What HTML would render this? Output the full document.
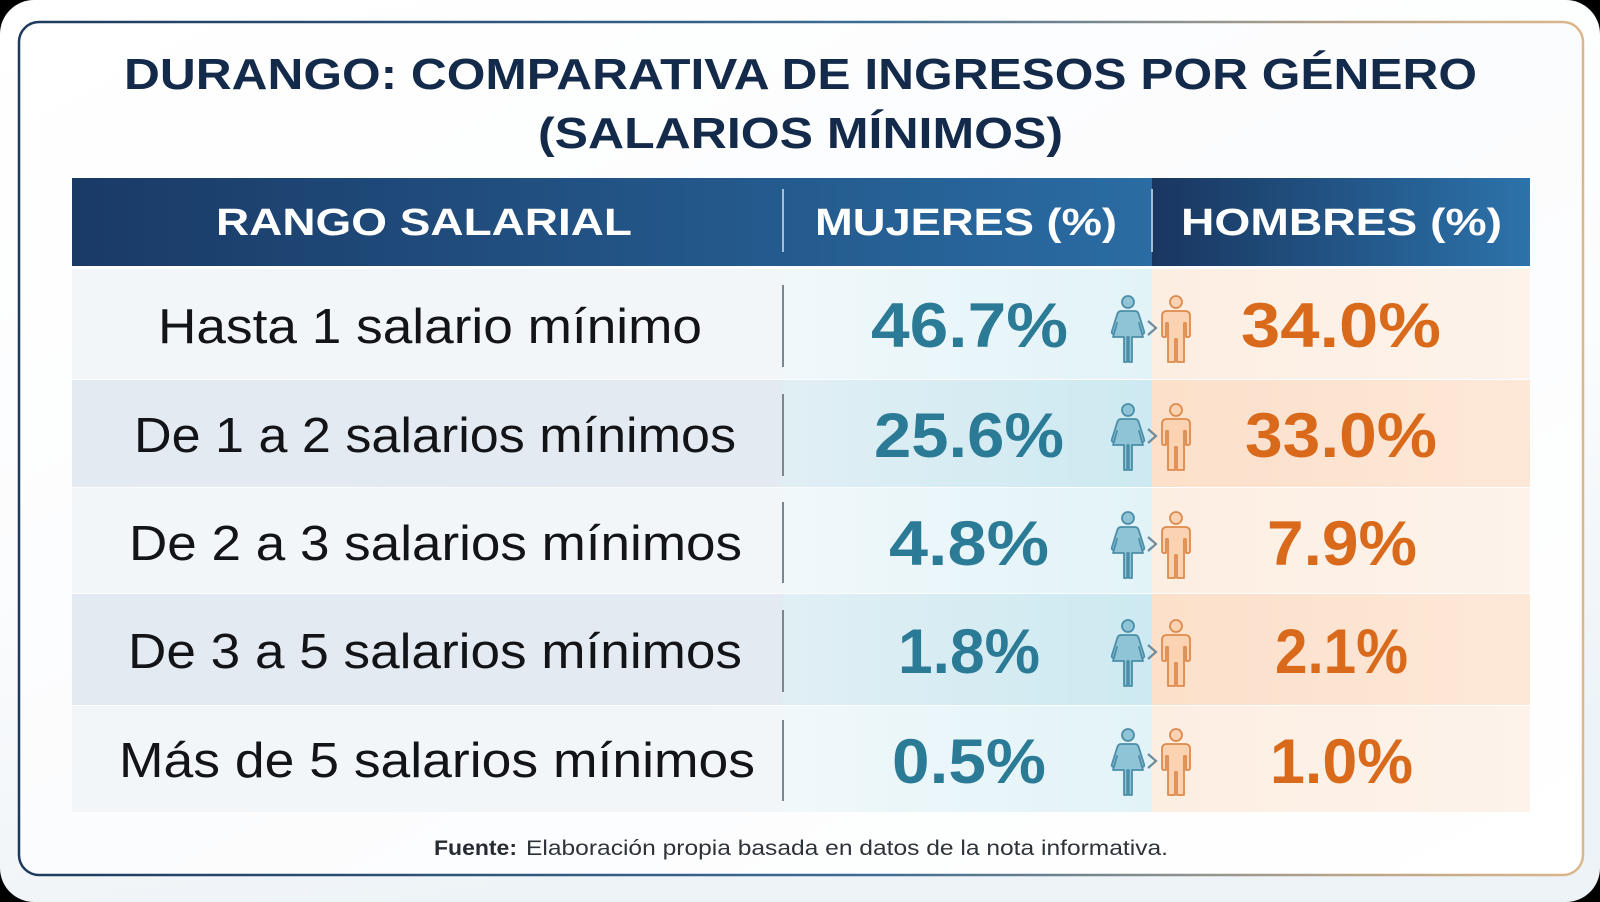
<!DOCTYPE html>
<html>
<head>
<meta charset="utf-8">
<style>
  html,body{margin:0;padding:0;background:#000;}
  svg{display:block;}
  text{font-family:"Liberation Sans", Arial, sans-serif;}
</style>
</head>
<body>
<svg width="1600" height="902" viewBox="0 0 1600 902" xmlns="http://www.w3.org/2000/svg">
  <defs>
    <linearGradient id="pagebg" x1="0" y1="0" x2="0.3" y2="1">
      <stop offset="0" stop-color="#ffffff"/>
      <stop offset="0.6" stop-color="#fbfcfd"/>
      <stop offset="1" stop-color="#eef3f7"/>
    </linearGradient>
    <linearGradient id="cardbg" x1="0" y1="0" x2="1" y2="1">
      <stop offset="0" stop-color="#ffffff"/>
      <stop offset="0.5" stop-color="#fbfcfd"/>
      <stop offset="1" stop-color="#ffffff"/>
    </linearGradient>
    <linearGradient id="cardstroke" x1="0" y1="0" x2="1" y2="0">
      <stop offset="0" stop-color="#1d3a5e"/>
      <stop offset="0.55" stop-color="#3d6d93"/>
      <stop offset="0.85" stop-color="#b9a48a"/>
      <stop offset="1" stop-color="#dcb78c"/>
    </linearGradient>
    <linearGradient id="hdr1" x1="0" y1="0" x2="1" y2="0">
      <stop offset="0" stop-color="#1a3a66"/>
      <stop offset="1" stop-color="#2a6ca3"/>
    </linearGradient>
    <linearGradient id="hdr2" x1="0" y1="0" x2="1" y2="0">
      <stop offset="0" stop-color="#193660"/>
      <stop offset="1" stop-color="#2c73ab"/>
    </linearGradient>
    <linearGradient id="mujOdd" x1="0" y1="0" x2="1" y2="0">
      <stop offset="0" stop-color="#f0f8fa"/>
      <stop offset="1" stop-color="#e2f3f8"/>
    </linearGradient>
    <linearGradient id="mujEven" x1="0" y1="0" x2="1" y2="0">
      <stop offset="0" stop-color="#e0eff4"/>
      <stop offset="1" stop-color="#cde9f1"/>
    </linearGradient>
    <linearGradient id="homOdd" x1="0" y1="0" x2="1" y2="0">
      <stop offset="0" stop-color="#fdeee2"/>
      <stop offset="1" stop-color="#fdf3eb"/>
    </linearGradient>
    <linearGradient id="homEven" x1="0" y1="0" x2="1" y2="0">
      <stop offset="0" stop-color="#fce0ca"/>
      <stop offset="1" stop-color="#fde8d8"/>
    </linearGradient>

    <g id="female">
      <circle cx="0" cy="-27" r="6" fill="#8fc4d7" stroke="#4c8ea8" stroke-width="1.8"/>
      <path d="M-7,-18 L7,-18 Q10,-18 11,-14 L16,2 Q17,5 14,5 L11,-6 L15,8 L4,8 L4,33 L0.8,33 L0.8,8 L-0.8,8 L-0.8,33 L-4,33 L-4,8 L-15,8 L-11,-6 L-14,5 Q-17,5 -16,2 L-11,-14 Q-10,-18 -7,-18 Z"
            fill="#8fc4d7" stroke="#4c8ea8" stroke-width="1.8" stroke-linejoin="round"/>
    </g>
    <g id="male">
      <circle cx="0" cy="-27" r="6" fill="#fbd3b2" stroke="#de8a4c" stroke-width="1.8"/>
      <path d="M-9,-18 L9,-18 Q14,-18 14,-13 L14,6 Q14,8 12,8 L10,8 L10,-6 L8,-6 L8,33 L1,33 L1,10 L-1,10 L-1,33 L-8,33 L-8,-6 L-10,-6 L-10,8 L-12,8 Q-14,8 -14,6 L-14,-13 Q-14,-18 -9,-18 Z"
            fill="#fbd3b2" stroke="#de8a4c" stroke-width="1.8" stroke-linejoin="round"/>
    </g>
  </defs>

  <!-- outer black frame + rounded white page -->
  <rect x="0" y="0" width="1600" height="902" fill="#000"/>
  <rect x="0" y="0" width="1600" height="902" rx="34" ry="34" fill="url(#pagebg)"/>

  <!-- card -->
  <rect x="19" y="22" width="1564" height="853" rx="20" ry="20" fill="url(#cardbg)" stroke="url(#cardstroke)" stroke-width="2.5"/>

  <!-- title -->
  <text x="124" y="89" font-size="44" font-weight="bold" fill="#142a4a" textLength="1353" lengthAdjust="spacingAndGlyphs">DURANGO: COMPARATIVA DE INGRESOS POR GÉNERO</text>
  <text x="538" y="148" font-size="44" font-weight="bold" fill="#142a4a" textLength="525" lengthAdjust="spacingAndGlyphs">(SALARIOS MÍNIMOS)</text>

  <!-- header -->
  <rect x="72" y="178" width="1080" height="88" fill="url(#hdr1)"/>
  <rect x="1152" y="178" width="378" height="88" fill="url(#hdr2)"/>
  <line x1="783" y1="189" x2="783" y2="252" stroke="#a9bdd1" stroke-width="2"/>
  <line x1="1152" y1="189" x2="1152" y2="252" stroke="#a9bdd1" stroke-width="2"/>
  <text x="216" y="235" font-size="38" font-weight="bold" fill="#ffffff" textLength="416" lengthAdjust="spacingAndGlyphs">RANGO SALARIAL</text>
  <text x="815" y="235" font-size="38" font-weight="bold" fill="#ffffff" textLength="302" lengthAdjust="spacingAndGlyphs">MUJERES (%)</text>
  <text x="1181" y="235" font-size="38" font-weight="bold" fill="#ffffff" textLength="321" lengthAdjust="spacingAndGlyphs">HOMBRES (%)</text>

  <!-- rows backgrounds -->
  <!-- row 1 -->
  <rect x="72" y="269" width="711" height="110" fill="#f3f6f9"/>
  <rect x="783" y="269" width="369" height="110" fill="url(#mujOdd)"/>
  <rect x="1152" y="269" width="378" height="110" fill="url(#homOdd)"/>
  <!-- row 2 -->
  <rect x="72" y="380" width="711" height="107" fill="#e3eaf2"/>
  <rect x="783" y="380" width="369" height="107" fill="url(#mujEven)"/>
  <rect x="1152" y="380" width="378" height="107" fill="url(#homEven)"/>
  <!-- row 3 -->
  <rect x="72" y="488" width="711" height="105" fill="#f3f6f9"/>
  <rect x="783" y="488" width="369" height="105" fill="url(#mujOdd)"/>
  <rect x="1152" y="488" width="378" height="105" fill="url(#homOdd)"/>
  <!-- row 4 -->
  <rect x="72" y="594" width="711" height="111" fill="#e3eaf2"/>
  <rect x="783" y="594" width="369" height="111" fill="url(#mujEven)"/>
  <rect x="1152" y="594" width="378" height="111" fill="url(#homEven)"/>
  <!-- row 5 -->
  <rect x="72" y="706" width="711" height="106" fill="#f3f6f9"/>
  <rect x="783" y="706" width="369" height="106" fill="url(#mujOdd)"/>
  <rect x="1152" y="706" width="378" height="106" fill="url(#homOdd)"/>

  <!-- row dividers -->
  <g stroke="#7f858c" stroke-width="2">
    <line x1="783" y1="285" x2="783" y2="367"/>
    <line x1="783" y1="394" x2="783" y2="476"/>
    <line x1="783" y1="502" x2="783" y2="583"/>
    <line x1="783" y1="610" x2="783" y2="692"/>
    <line x1="783" y1="720" x2="783" y2="801"/>
  </g>

  <!-- labels -->
  <g font-size="49" fill="#121417">
    <text x="158" y="343" textLength="544" lengthAdjust="spacingAndGlyphs">Hasta 1 salario mínimo</text>
    <text x="134" y="452" textLength="602" lengthAdjust="spacingAndGlyphs">De 1 a 2 salarios mínimos</text>
    <text x="129" y="560" textLength="613" lengthAdjust="spacingAndGlyphs">De 2 a 3 salarios mínimos</text>
    <text x="128" y="668" textLength="614" lengthAdjust="spacingAndGlyphs">De 3 a 5 salarios mínimos</text>
    <text x="119" y="777" textLength="636" lengthAdjust="spacingAndGlyphs">Más de 5 salarios mínimos</text>
  </g>

  <!-- mujeres values -->
  <g font-size="63" font-weight="bold" fill="#2b7b97">
    <text x="871" y="347" textLength="197" lengthAdjust="spacingAndGlyphs">46.7%</text>
    <text x="874" y="457" textLength="190" lengthAdjust="spacingAndGlyphs">25.6%</text>
    <text x="889" y="565" textLength="160" lengthAdjust="spacingAndGlyphs">4.8%</text>
    <text x="898" y="673" textLength="142" lengthAdjust="spacingAndGlyphs">1.8%</text>
    <text x="892" y="783" textLength="154" lengthAdjust="spacingAndGlyphs">0.5%</text>
  </g>

  <!-- hombres values -->
  <g font-size="63" font-weight="bold" fill="#d96a1c">
    <text x="1241" y="347" textLength="200" lengthAdjust="spacingAndGlyphs">34.0%</text>
    <text x="1245" y="457" textLength="192" lengthAdjust="spacingAndGlyphs">33.0%</text>
    <text x="1267" y="565" textLength="150" lengthAdjust="spacingAndGlyphs">7.9%</text>
    <text x="1275" y="673" textLength="133" lengthAdjust="spacingAndGlyphs">2.1%</text>
    <text x="1270" y="783" textLength="143" lengthAdjust="spacingAndGlyphs">1.0%</text>
  </g>

  <!-- icons -->
  <g>
    <use href="#female" x="1128" y="329"/>
    <use href="#male" x="1176" y="329"/>
    <polyline points="1148,321 1156,328 1148,335" fill="none" stroke="#6f8c9c" stroke-width="2.2"/>

    <use href="#female" x="1128" y="437"/>
    <use href="#male" x="1176" y="437"/>
    <polyline points="1148,429 1156,436 1148,443" fill="none" stroke="#6f8c9c" stroke-width="2.2"/>

    <use href="#female" x="1128" y="545"/>
    <use href="#male" x="1176" y="545"/>
    <polyline points="1148,537 1156,544 1148,551" fill="none" stroke="#6f8c9c" stroke-width="2.2"/>

    <use href="#female" x="1128" y="653"/>
    <use href="#male" x="1176" y="653"/>
    <polyline points="1148,645 1156,652 1148,659" fill="none" stroke="#6f8c9c" stroke-width="2.2"/>

    <use href="#female" x="1128" y="762"/>
    <use href="#male" x="1176" y="762"/>
    <polyline points="1148,754 1156,761 1148,768" fill="none" stroke="#6f8c9c" stroke-width="2.2"/>
  </g>

  <!-- footer -->
  <text x="434" y="855" font-size="21" font-weight="bold" fill="#262b31" textLength="83" lengthAdjust="spacingAndGlyphs">Fuente:</text>
  <text x="526" y="855" font-size="21" fill="#2e333a" textLength="642" lengthAdjust="spacingAndGlyphs">Elaboración propia basada en datos de la nota informativa.</text>
</svg>
</body>
</html>
